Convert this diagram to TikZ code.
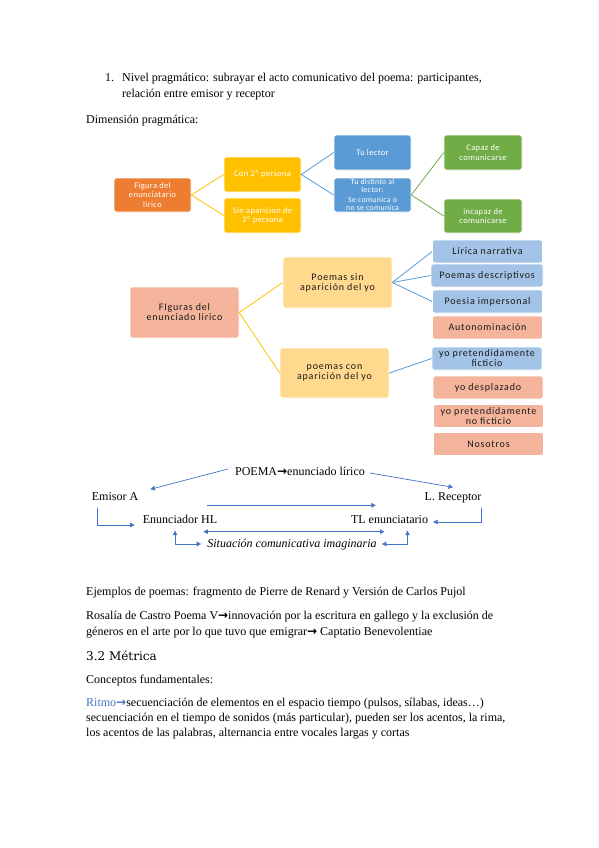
\documentclass[tikz,border=0pt]{standalone}
\usepackage{fontspec}
\setmainfont{Liberation Serif}
\newfontfamily\diafont[LetterSpace=4]{Carlito}
\newfontfamily\fichafont[LetterSpace=8]{Carlito}
\newfontfamily\symfont{DejaVu Sans}
\newfontfamily\headfont{DejaVu Serif}
\usetikzlibrary{arrows.meta}
\definecolor{naranja}{HTML}{ED7D31}
\definecolor{oro}{HTML}{FFC000}
\definecolor{azul}{HTML}{5B9BD5}
\definecolor{verde}{HTML}{70AD47}
\definecolor{salmon}{HTML}{F4B49C}
\definecolor{oroclaro}{HTML}{FFD98E}
\definecolor{azulclaro}{HTML}{A2C3E6}
\definecolor{azulflecha}{HTML}{4472C4}
\newcommand\fl{{\symfont\bfseries →}}
\begin{document}
\begin{tikzpicture}[x=1pt,y=-1pt,
    txt/.style={anchor=base west,inner sep=0pt,font=\fontsize{12}{14}\selectfont},
    etq/.style={inner sep=0pt,text height=8.5pt,text depth=2.5pt,font=\fontsize{12}{14}\selectfont},
    caja/.style={rounded corners=2.5pt,draw=white,line width=0.6pt,text=white,align=center,inner sep=1pt,
        minimum width=77pt,minimum height=35pt,font=\diafont\fontsize{8.5}{9.5}\selectfont},
    ficha/.style={rounded corners=2.5pt,draw=white,line width=0.6pt,text=black!90,align=center,inner sep=1pt,
        font=\fichafont\fontsize{10}{10}\selectfont},
    hoja/.style={ficha,minimum width=110pt,minimum height=23pt},
    rama/.style={line width=0.8pt},
    flecha/.style={draw=azulflecha,line width=0.7pt,-{Triangle[length=4.5pt,width=4.5pt]}},
    doble/.style={flecha,{Triangle[length=4.5pt,width=4.5pt]}-{Triangle[length=4.5pt,width=4.5pt]}}]
    \fill[white](0,0)rectangle(599,848);
    \node[txt](n1)at(105,82){1.};
    \node[txt](l1)at(122,82){Nivel pragmático: subrayar el acto comunicativo del poema: participantes,};
    \node[txt](l2)at(122,98){relación entre emisor y receptor};
    \node[txt](dim)at(86,124){Dimensión pragmática:};
    \node[caja,fill=naranja,minimum height=34pt](fe)at(152.5,195){Figura del\\enunciatario\\lirico};
    \node[caja,fill=oro](c2)at(262.5,174.5){Con 2º persona};
    \node[caja,fill=oro](s2)at(262.5,215.5){Sin aparicion de\\2º persona};
    \node[caja,fill=azul](tl)at(372.5,152.5){Tu lector};
    \node[caja,fill=azul,minimum height=34pt,font=\diafont\fontsize{7.8}{8}\selectfont](td)at(372.5,195)
        {Tu distinto al\\lector:\\[2pt]Se comunica o\\no se comunica};
    \node[caja,fill=verde,minimum width=78pt](cap)at(483,152.5){Capaz de\\comunicarse};
    \node[caja,fill=verde,minimum width=78pt,minimum height=34pt](inc)at(483,216){incapaz de\\comunicarse};
    \draw[rama,oro](c2.west)--(fe.east)--(s2.west);
    \draw[rama,azul](tl.west)--(c2.east)--(td.west);
    \draw[rama,verde](cap.west)--(td.east)--(inc.west);
    \node[ficha,fill=salmon,minimum width=109pt,minimum height=51pt](fl)at(184.5,312.5){FIguras del\\enunciado lirico};
    \node[ficha,fill=oroclaro,minimum width=109pt,minimum height=51pt](ps)at(337.5,282.5){Poemas sin\\aparición del yo};
    \node[ficha,fill=oroclaro,minimum width=109pt,minimum height=50pt](pc)at(334.5,373){poemas con\\aparición del yo};
    \node[hoja,fill=azulclaro](ln)at(487.5,251.5){Lírica narrativa};
    \node[hoja,fill=azulclaro,minimum width=112pt](pd)at(487,275.5){Poemas descriptivos};
    \node[hoja,fill=azulclaro](pi)at(487.5,301.5){Poesia impersonal};
    \node[hoja,fill=salmon](au)at(487.5,327.5){Autonominación};
    \node[hoja,fill=azulclaro](yf)at(487,358.5){yo pretendidamente\\ficticio};
    \node[hoja,fill=salmon](yd)at(488,387.5){yo desplazado};
    \node[hoja,fill=salmon](yn)at(488.5,416){yo pretendidamente\\no ficticio};
    \node[hoja,fill=salmon](no)at(488.5,444){Nosotros};
    \draw[rama,oro](ps.west)--(fl.east)--(pc.west);
    \draw[rama,azul](ln.west)--(ps.east)--(pi.west);
    \draw[rama,azul](ps.east)--(pd.west);
    \draw[rama,azul](pc.east)--(yf.west);
    \node[etq](poema)at(300,472){POEMA\fl enunciado lírico};
    \node[etq](emA)at(115,497){Emisor A};
    \node[etq](lrec)at(453,497){L. Receptor};
    \node[etq](enHL)at(180,520){Enunciador HL};
    \node[etq](tlen)at(389.5,520){TL enunciatario};
    \node[etq,font=\itshape\fontsize{12}{14}\selectfont](sit)at(292,544){Situación comunicativa imaginaria};
    \draw[flecha]([xshift=-7pt,yshift=3pt]poema.west)--([xshift=12pt,yshift=2pt]emA.north east);
    \draw[flecha]([xshift=5pt,yshift=-1pt]poema.east)--([yshift=4pt]lrec.north);
    \draw[flecha]([xshift=-10pt,yshift=9pt]enHL.north east)--([xshift=25pt,yshift=9pt]tlen.north west);
    \draw[flecha]([xshift=6pt,yshift=-5pt]emA.south west)|-([xshift=-8pt,yshift=-5pt]enHL.west);
    \draw[flecha]([yshift=-5pt]lrec.south east)|-([xshift=5pt,yshift=-2pt]tlen.east);
    \draw[doble]([xshift=-14pt,yshift=-6pt]enHL.south east)--([xshift=-5pt,yshift=-6pt]tlen.south);
    \draw[doble]([xshift=-6pt]sit.west)-|([xshift=-5pt,yshift=-5pt]enHL.south);
    \draw[doble]([xshift=5pt]sit.east)-|([xshift=18pt,yshift=-5pt]tlen.south);
    \node[txt](ej)at(86,595){Ejemplos de poemas: fragmento de Pierre de Renard y Versión de Carlos Pujol};
    \node[txt](ro1)at(86,619){Rosalía de Castro Poema V\fl innovación por la escritura en gallego y la exclusión de};
    \node[txt](ro2)at(86,635){géneros en el arte por lo que tuvo que emigrar\fl{} Captatio Benevolentiae};
    \node[txt,font=\headfont\fontsize{12}{14}\selectfont](met)at(86,660){3.2 Métrica};
    \node[txt](con)at(86,683){Conceptos fundamentales:};
    \node[txt](ri1)at(86,706){\textcolor{azulflecha}{Ritmo\fl}secuenciación de elementos en el espacio tiempo (pulsos, sílabas, ideas…)};
    \node[txt](ri2)at(86,721){secuenciación en el tiempo de sonidos (más particular), pueden ser los acentos, la rima,};
    \node[txt](ri3)at(86,736){los acentos de las palabras, alternancia entre vocales largas y cortas};
\end{tikzpicture}
\end{document}
